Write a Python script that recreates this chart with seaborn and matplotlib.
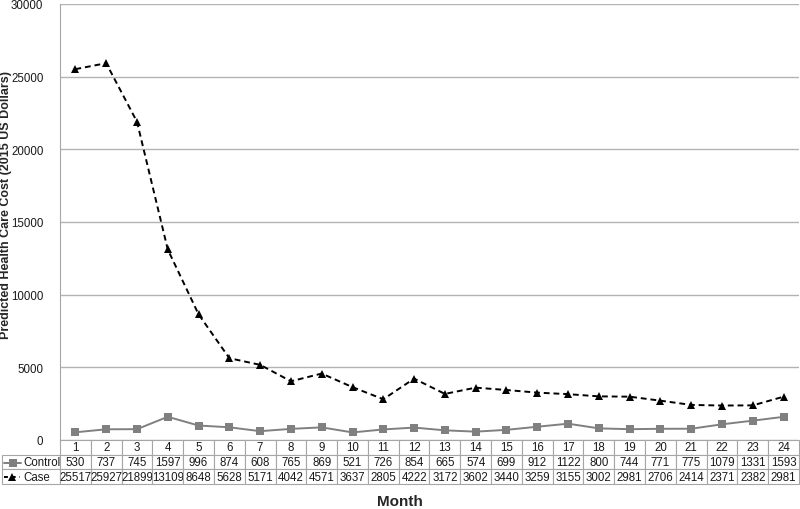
import pandas as pd
import matplotlib.pyplot as plt
from matplotlib.lines import Line2D
import seaborn as sns

months = list(range(1, 25))
control = [530, 737, 745, 1597, 996, 874, 608, 765, 869, 521, 726, 854,
           665, 574, 699, 912, 1122, 800, 744, 771, 775, 1079, 1331, 1593]
case = [25517, 25927, 21899, 13109, 8648, 5628, 5171, 4042, 4571, 3637, 2805, 4222,
        3172, 3602, 3440, 3259, 3155, 3002, 2981, 2706, 2414, 2371, 2382, 2981]
y_ticks = [0, 5000, 10000, 15000, 20000, 25000, 30000]

sns.set_style("white")
plt.rcParams['font.family'] = ['Liberation Sans', 'DejaVu Sans']

df = pd.DataFrame({
    'Month': months * 2,
    'Cost': control + case,
    'Group': ['Control'] * len(months) + ['Case'] * len(months),
})

fig = plt.figure(figsize=(8, 5.1), dpi=100)
ax = fig.add_axes([0.075, 0.1353, 0.92375, 0.8549])

sns.lineplot(data=df, x='Month', y='Cost', hue='Group', style='Group',
             palette={'Control': '#808080', 'Case': 'black'},
             markers={'Control': 's', 'Case': '^'},
             dashes={'Control': '', 'Case': (3, 2)},
             markersize=6, markeredgewidth=0, linewidth=1.4,
             legend=False, ax=ax)

ax.set_xlim(0.5, 24.5)
ax.set_ylim(0, 30000)
ax.set_yticks(y_ticks)
ax.set_yticklabels([str(v) for v in y_ticks], fontsize=8.3, color='#1a1a1a')
ax.set_xticks([])
ax.tick_params(axis='y', length=0, pad=12)
ax.grid(axis='y', color='#b3b3b3', linewidth=1)
for side in ['top', 'right', 'bottom']:
    ax.spines[side].set_visible(False)
ax.spines['left'].set_color('#a6a6a6')
ax.set_xlabel('')
ax.set_ylabel('Predicted Health Care Cost (2015 US Dollars)', fontsize=9,
              fontweight='bold')
ax.yaxis.set_label_coords(-0.0646, 0.541)

# data table under the plot
cell_text = [[''] + [str(m) for m in months],
             ['Control'] + [str(v) for v in control],
             ['Case'] + [str(v) for v in case]]
tbl = ax.table(cellText=cell_text, colWidths=[58] + [30.8] * 24,
               cellLoc='center', bbox=[-0.0785, -0.1009, 1.0785, 0.1009])
tbl.auto_set_font_size(False)
tbl.set_fontsize(8.3)
for (r, c), cell in tbl.get_celld().items():
    cell.set_edgecolor('#a6a6a6')
    cell.set_linewidth(0.8)
    cell.get_text().set_color('#1a1a1a')
    if c == 0:
        cell._loc = 'left'
        cell.PAD = 21 / 58
        cell.get_text().set_horizontalalignment('left')
tbl[(0, 0)].visible_edges = ''

# legend keys in the row-label cells
y_ctrl = 1 - 463.5 / 510
y_case = 1 - 478 / 510
fig.add_artist(Line2D([4 / 800, 21 / 800], [y_ctrl, y_ctrl], color='#808080', lw=1.4,
                      transform=fig.transFigure))
fig.add_artist(Line2D([12.5 / 800], [y_ctrl], marker='s', color='#808080', ms=5.5, mew=0,
                      transform=fig.transFigure))
fig.add_artist(Line2D([4 / 800, 20 / 800], [y_case, y_case], color='black', lw=1.4,
                      dashes=(2, 2), transform=fig.transFigure))
fig.add_artist(Line2D([12 / 800], [y_case], marker='^', color='black', ms=6, mew=0,
                      transform=fig.transFigure))

fig.text(0.5, 1 - 502 / 510, 'Month', ha='center', va='center', fontsize=11,
         fontweight='bold')

fig.savefig('out.png', dpi=100)
